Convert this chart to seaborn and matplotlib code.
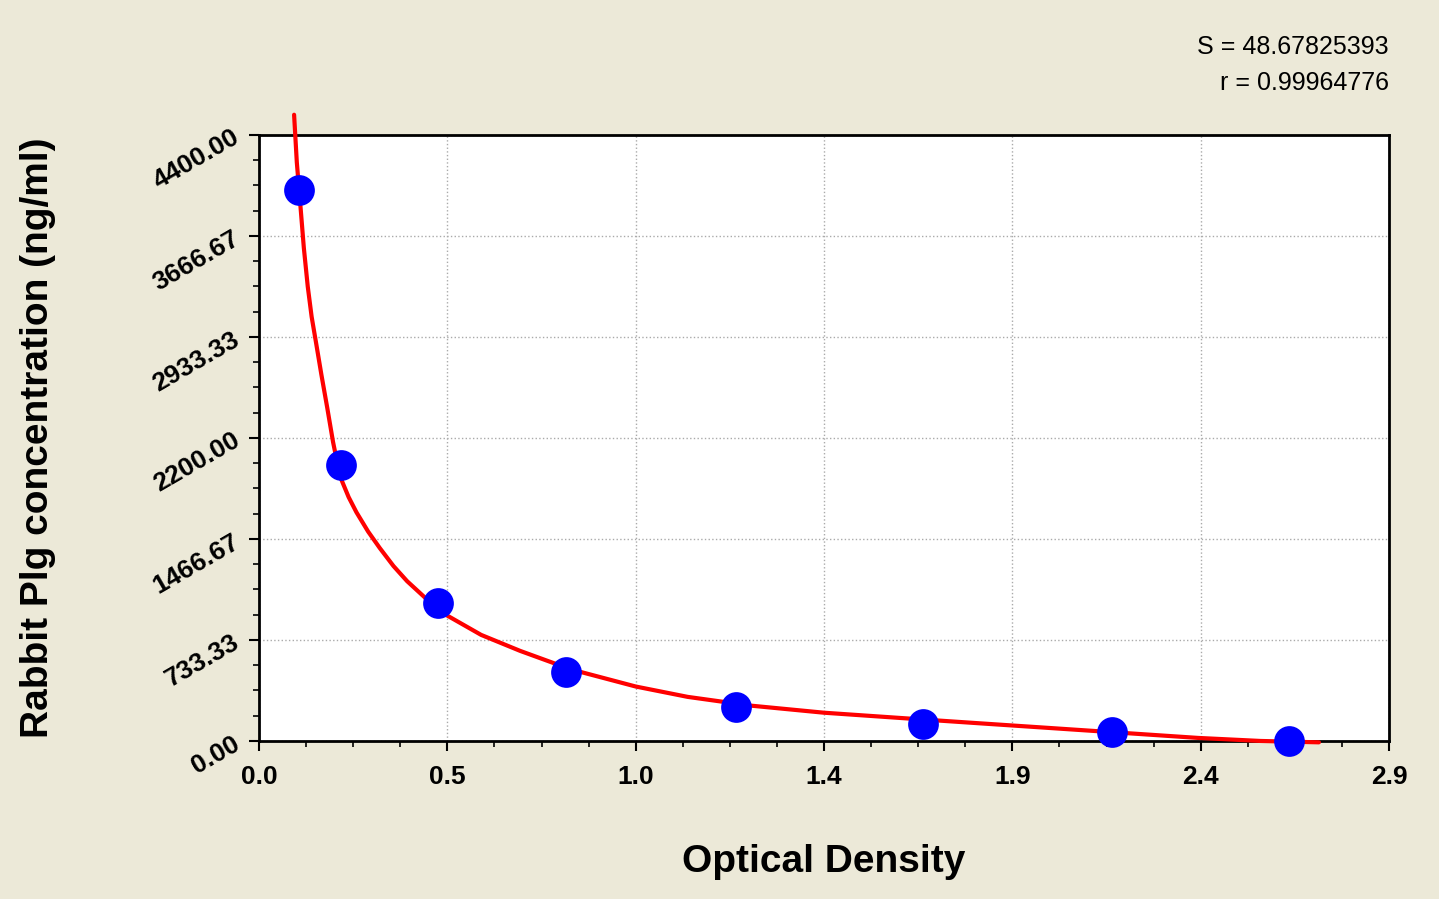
import numpy as np
import matplotlib
matplotlib.use("Agg")
import matplotlib.pyplot as plt
import seaborn as sns
from matplotlib.ticker import FixedLocator, AutoMinorLocator

sns.set_theme(style="white")
plt.rcParams['font.family'] = ['Liberation Sans', 'DejaVu Sans']
plt.rcParams['text.color'] = 'black'
plt.rcParams['axes.labelcolor'] = 'black'
plt.rcParams['xtick.color'] = 'black'
plt.rcParams['ytick.color'] = 'black'

od = [0.103, 0.210, 0.459, 0.788, 1.224, 1.704, 2.189, 2.643]
conc = [4000, 2000, 1000, 500, 250, 125, 62.5, 0]
curve_x = [0.09, 0.097, 0.105, 0.115, 0.125, 0.135, 0.147, 0.16, 0.175, 0.19, 0.208,
           0.23, 0.25, 0.28, 0.31, 0.345, 0.38, 0.43, 0.48, 0.57, 0.67,
           0.8, 0.967, 1.1, 1.26, 1.45, 1.645, 1.85, 2.03, 2.22, 2.41, 2.57, 2.72]
curve_y = [4546, 4200, 3929, 3580, 3300, 3080, 2880, 2660, 2420, 2170, 1920,
           1770, 1660, 1520, 1400, 1270, 1160, 1030, 915, 770, 654,
           520, 395, 320, 257, 205, 167, 128, 94, 58, 22, 0, -10]
xticks = [0, 2.9/6, 2*2.9/6, 3*2.9/6, 4*2.9/6, 5*2.9/6, 2.9]
yticks = [0, 733.33, 1466.67, 2200.00, 2933.33, 3666.67, 4400.00]

fig = plt.figure(figsize=(14.39, 8.99), dpi=100, facecolor='#ECE9D8')
ax = fig.add_axes([0.18, 0.1758, 0.7853, 0.6742])
ax.set_facecolor('white')
sns.lineplot(x=curve_x, y=curve_y, ax=ax, color='#FF0000', lw=3, zorder=3, sort=False)
for l in ax.lines:
    l.set_clip_on(False)
sns.scatterplot(x=od, y=conc, ax=ax, color='#0000FF', s=420, edgecolor='#0000FF', zorder=4, clip_on=False)
ax.set_xlim(0, 2.9)
ax.set_ylim(0, 4400)
ax.xaxis.set_major_locator(FixedLocator(xticks))
ax.yaxis.set_major_locator(FixedLocator(yticks))
ax.xaxis.set_minor_locator(AutoMinorLocator(4))
ax.yaxis.set_minor_locator(AutoMinorLocator(4))
ax.set_xticklabels([f"{v:.1f}" for v in xticks], fontsize=19, fontweight='bold')
ax.set_yticklabels([f"{v:.2f}" for v in yticks], fontsize=19, fontweight='bold', rotation=30)
ax.tick_params(axis='x', which='major', pad=10)
ax.tick_params(axis='y', which='major', pad=4)
ax.tick_params(which='major', direction='out', length=7, width=1.5, color='black', bottom=True, left=True)
ax.tick_params(which='minor', direction='out', length=4, width=1.2, color='black', bottom=True, left=True)
ax.grid(True, which='major', color='#AAAAAA', linestyle=':', linewidth=1)
for s in ax.spines.values():
    s.set_color('black'); s.set_linewidth(2)
ax.set_xlabel('Optical Density', fontsize=28, fontweight='bold', labelpad=40)
ax.set_ylabel('Rabbit Plg concentration (ng/ml)', fontsize=28, fontweight='bold', labelpad=50)
ax.yaxis.set_label_coords(-0.18, 0.5)
fig.text(0.965, 0.948, 'S = 48.67825393', ha='right', va='center', fontsize=18)
fig.text(0.965, 0.908, 'r = 0.99964776', ha='right', va='center', fontsize=18)
fig.savefig('out.png', dpi=100, facecolor=fig.get_facecolor())
